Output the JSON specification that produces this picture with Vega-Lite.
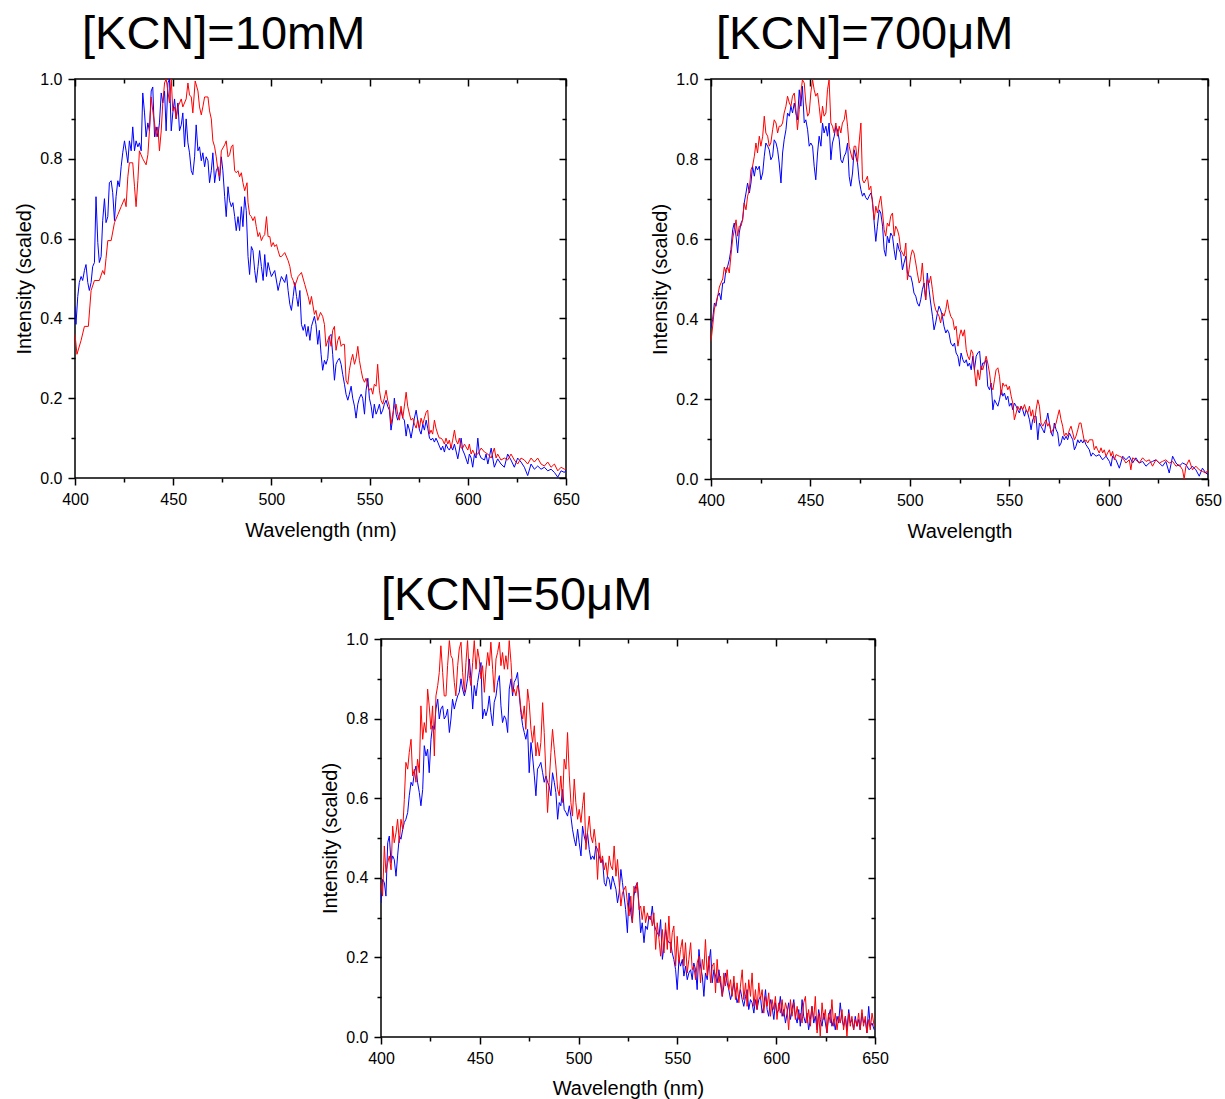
{
"$schema": "https://vega.github.io/schema/vega-lite/v6.json",
"background": "white",
"padding": {"left": 14, "top": 10, "right": 2, "bottom": 0},
"config": {
  "view": {"stroke": null},
  "font": "Liberation Sans",
  "axis": {"domain": false, "grid": false, "tickColor": "#000000", "tickWidth": 1.5, "tickSize": 7, "labelFont": "Liberation Sans", "labelFontSize": 16, "labelColor": "#000000", "labelPadding": 6, "labelFlush": false, "labelOverlap": false, "titleFont": "Liberation Sans", "titleFontSize": 20, "titleFontWeight": "normal", "titleColor": "#000000"},
  "title": {"font": "Liberation Sans", "fontSize": 47, "fontWeight": "normal", "color": "#000000", "anchor": "start", "frame": "group", "baseline": "alphabetic"}
},
"datasets": {
"ghost": [{"w":400,"i":0},{"w":650,"i":1}],
"k10_r": [{"w":400,"i":0.36},{"w":401,"i":0.31},{"w":403.1,"i":0.345},{"w":404.8,"i":0.38},{"w":406.8,"i":0.38},{"w":408.2,"i":0.47},{"w":409.9,"i":0.495},{"w":412.4,"i":0.495},{"w":414.1,"i":0.52},{"w":415,"i":0.51},{"w":415.8,"i":0.55},{"w":416.7,"i":0.595},{"w":418.4,"i":0.595},{"w":420.1,"i":0.64},{"w":421.8,"i":0.66},{"w":423.5,"i":0.68},{"w":425.2,"i":0.7},{"w":426,"i":0.68},{"w":426.9,"i":0.755},{"w":427.7,"i":0.79},{"w":429.4,"i":0.79},{"w":430.3,"i":0.73},{"w":431.1,"i":0.68},{"w":432,"i":0.745},{"w":432.8,"i":0.82},{"w":434.5,"i":0.8},{"w":436.2,"i":0.785},{"w":437.1,"i":0.81},{"w":437.9,"i":0.87},{"w":438.8,"i":0.955},{"w":439.6,"i":0.92},{"w":440.5,"i":0.89},{"w":441.3,"i":0.855},{"w":442.2,"i":0.88},{"w":443,"i":0.82},{"w":443.9,"i":0.87},{"w":444.7,"i":0.94},{"w":445.6,"i":0.99},{"w":446.4,"i":1.0},{"w":447.3,"i":0.97},{"w":448.1,"i":0.94},{"w":449,"i":1.0},{"w":449.8,"i":0.92},{"w":450.7,"i":0.93},{"w":451.5,"i":0.9},{"w":452.4,"i":0.93},{"w":454.1,"i":0.95},{"w":454.9,"i":0.93},{"w":456.6,"i":0.95},{"w":457.5,"i":0.99},{"w":458.3,"i":0.96},{"w":459.2,"i":0.955},{"w":460,"i":0.915},{"w":461.2,"i":0.995},{"w":462.6,"i":0.97},{"w":463.4,"i":0.93},{"w":464.3,"i":0.91},{"w":465.1,"i":0.93},{"w":466,"i":0.955},{"w":467.7,"i":0.955},{"w":468.5,"i":0.92},{"w":469.4,"i":0.9},{"w":470.2,"i":0.845},{"w":471.1,"i":0.83},{"w":471.9,"i":0.805},{"w":472.8,"i":0.77},{"w":473.6,"i":0.755},{"w":474.5,"i":0.82},{"w":476.2,"i":0.835},{"w":477,"i":0.845},{"w":477.9,"i":0.805},{"w":478.7,"i":0.81},{"w":479.6,"i":0.83},{"w":480.4,"i":0.835},{"w":481.3,"i":0.77},{"w":482.1,"i":0.765},{"w":483,"i":0.77},{"w":483.8,"i":0.755},{"w":484.7,"i":0.765},{"w":485.5,"i":0.74},{"w":486.4,"i":0.72},{"w":487.6,"i":0.74},{"w":488.1,"i":0.69},{"w":488.9,"i":0.66},{"w":489.8,"i":0.655},{"w":490.6,"i":0.645},{"w":491.5,"i":0.655},{"w":492.3,"i":0.63},{"w":493.2,"i":0.605},{"w":494,"i":0.615},{"w":494.9,"i":0.595},{"w":495.8,"i":0.605},{"w":496.6,"i":0.61},{"w":497.5,"i":0.655},{"w":498.3,"i":0.605},{"w":499.2,"i":0.605},{"w":500,"i":0.58},{"w":500.9,"i":0.59},{"w":501.7,"i":0.58},{"w":502.6,"i":0.585},{"w":503.4,"i":0.57},{"w":504.3,"i":0.555},{"w":505.1,"i":0.555},{"w":506.8,"i":0.565},{"w":508.5,"i":0.545},{"w":509.4,"i":0.53},{"w":510.2,"i":0.505},{"w":511.1,"i":0.495},{"w":511.9,"i":0.48},{"w":513.6,"i":0.505},{"w":515.3,"i":0.515},{"w":517,"i":0.485},{"w":518.7,"i":0.455},{"w":519.6,"i":0.435},{"w":520.4,"i":0.455},{"w":521.9,"i":0.41},{"w":522.7,"i":0.42},{"w":523.6,"i":0.395},{"w":525,"i":0.415},{"w":526.1,"i":0.405},{"w":527,"i":0.385},{"w":527.8,"i":0.33},{"w":528.7,"i":0.345},{"w":529.5,"i":0.355},{"w":530.4,"i":0.33},{"w":531.2,"i":0.37},{"w":532.1,"i":0.38},{"w":532.9,"i":0.32},{"w":533.8,"i":0.345},{"w":534.6,"i":0.355},{"w":535.5,"i":0.33},{"w":536.3,"i":0.335},{"w":537.2,"i":0.335},{"w":538,"i":0.245},{"w":538.9,"i":0.235},{"w":539.7,"i":0.27},{"w":540.6,"i":0.295},{"w":541.4,"i":0.31},{"w":542.3,"i":0.285},{"w":543.1,"i":0.3},{"w":544,"i":0.33},{"w":544.8,"i":0.295},{"w":545.7,"i":0.27},{"w":546.5,"i":0.25},{"w":547.4,"i":0.24},{"w":548.2,"i":0.25},{"w":549.1,"i":0.23},{"w":549.9,"i":0.22},{"w":550.8,"i":0.225},{"w":551.6,"i":0.21},{"w":552.4,"i":0.235},{"w":553.3,"i":0.23},{"w":554.1,"i":0.285},{"w":555,"i":0.22},{"w":555.8,"i":0.195},{"w":556.7,"i":0.185},{"w":557.5,"i":0.2},{"w":558.4,"i":0.22},{"w":559.2,"i":0.195},{"w":560.1,"i":0.18},{"w":560.9,"i":0.135},{"w":561.8,"i":0.16},{"w":562.6,"i":0.18},{"w":563.5,"i":0.185},{"w":564.3,"i":0.16},{"w":565.2,"i":0.145},{"w":566,"i":0.18},{"w":566.9,"i":0.15},{"w":567.7,"i":0.18},{"w":568.6,"i":0.215},{"w":569.4,"i":0.18},{"w":570.3,"i":0.16},{"w":571.1,"i":0.145},{"w":572,"i":0.15},{"w":572.8,"i":0.135},{"w":573.7,"i":0.125},{"w":574.5,"i":0.145},{"w":575.4,"i":0.125},{"w":576.2,"i":0.15},{"w":577.1,"i":0.135},{"w":577.9,"i":0.15},{"w":578.8,"i":0.165},{"w":579.6,"i":0.17},{"w":580.5,"i":0.11},{"w":581.3,"i":0.12},{"w":582.1,"i":0.11},{"w":583,"i":0.145},{"w":583.8,"i":0.125},{"w":584.7,"i":0.11},{"w":585.5,"i":0.1},{"w":586.4,"i":0.1},{"w":587.2,"i":0.095},{"w":588.1,"i":0.085},{"w":588.9,"i":0.1},{"w":589.8,"i":0.085},{"w":590.6,"i":0.095},{"w":591.5,"i":0.075},{"w":592.3,"i":0.095},{"w":593.2,"i":0.12},{"w":594,"i":0.095},{"w":594.9,"i":0.085},{"w":595.7,"i":0.1},{"w":596.6,"i":0.075},{"w":597.4,"i":0.075},{"w":598.3,"i":0.085},{"w":600,"i":0.07},{"w":600.8,"i":0.085},{"w":601.7,"i":0.06},{"w":602.5,"i":0.07},{"w":603.4,"i":0.06},{"w":605.1,"i":0.06},{"w":606.8,"i":0.075},{"w":608.5,"i":0.065},{"w":610.2,"i":0.06},{"w":611.9,"i":0.05},{"w":613.5,"i":0.075},{"w":614.4,"i":0.05},{"w":615.2,"i":0.06},{"w":616.9,"i":0.045},{"w":618.6,"i":0.05},{"w":620.3,"i":0.045},{"w":622,"i":0.06},{"w":623.7,"i":0.045},{"w":625.4,"i":0.035},{"w":627.1,"i":0.05},{"w":628.8,"i":0.045},{"w":630.5,"i":0.035},{"w":632.2,"i":0.05},{"w":633.9,"i":0.04},{"w":635.6,"i":0.05},{"w":637.3,"i":0.035},{"w":639,"i":0.03},{"w":640.7,"i":0.04},{"w":642.4,"i":0.027},{"w":644.1,"i":0.035},{"w":645.8,"i":0.018},{"w":647.5,"i":0.027},{"w":649.2,"i":0.022},{"w":650,"i":0.025}],
"k10_b": [{"w":400,"i":0.43},{"w":400.5,"i":0.385},{"w":401.4,"i":0.455},{"w":402.2,"i":0.49},{"w":403.1,"i":0.505},{"w":403.9,"i":0.495},{"w":404.8,"i":0.52},{"w":405.6,"i":0.535},{"w":406.5,"i":0.49},{"w":407.3,"i":0.47},{"w":408.2,"i":0.49},{"w":409,"i":0.53},{"w":409.9,"i":0.54},{"w":410.7,"i":0.705},{"w":411.6,"i":0.59},{"w":412.4,"i":0.54},{"w":413.3,"i":0.555},{"w":414.1,"i":0.645},{"w":415,"i":0.7},{"w":415.8,"i":0.64},{"w":416.7,"i":0.655},{"w":417.5,"i":0.74},{"w":418.4,"i":0.745},{"w":419.2,"i":0.715},{"w":420.1,"i":0.645},{"w":420.9,"i":0.705},{"w":421.8,"i":0.745},{"w":422.6,"i":0.73},{"w":423.5,"i":0.78},{"w":424.3,"i":0.815},{"w":425.2,"i":0.845},{"w":426,"i":0.82},{"w":426.9,"i":0.79},{"w":427.7,"i":0.845},{"w":428.6,"i":0.82},{"w":429.4,"i":0.88},{"w":430.3,"i":0.82},{"w":431.1,"i":0.845},{"w":432,"i":0.83},{"w":432.8,"i":0.84},{"w":433.7,"i":0.82},{"w":434.5,"i":0.965},{"w":435.4,"i":0.915},{"w":436.2,"i":0.855},{"w":437.1,"i":0.89},{"w":437.9,"i":0.87},{"w":438.8,"i":0.97},{"w":439.6,"i":0.98},{"w":440.5,"i":0.855},{"w":441.3,"i":0.88},{"w":442.2,"i":0.855},{"w":443,"i":0.89},{"w":443.9,"i":0.965},{"w":444.7,"i":0.94},{"w":445.6,"i":0.97},{"w":446.4,"i":0.87},{"w":447.3,"i":0.99},{"w":448.1,"i":1.0},{"w":449,"i":0.87},{"w":449.8,"i":0.915},{"w":450.7,"i":0.95},{"w":451.5,"i":0.9},{"w":452.4,"i":0.94},{"w":453.2,"i":0.87},{"w":454.1,"i":0.885},{"w":454.9,"i":0.915},{"w":455.8,"i":0.83},{"w":456.6,"i":0.9},{"w":457.5,"i":0.84},{"w":458.3,"i":0.815},{"w":459.2,"i":0.77},{"w":460,"i":0.76},{"w":460.9,"i":0.805},{"w":461.7,"i":0.885},{"w":462.6,"i":0.82},{"w":463.4,"i":0.83},{"w":464.3,"i":0.795},{"w":465.1,"i":0.815},{"w":466,"i":0.78},{"w":466.8,"i":0.805},{"w":467.7,"i":0.795},{"w":468.5,"i":0.74},{"w":469.4,"i":0.77},{"w":470.2,"i":0.815},{"w":471.1,"i":0.74},{"w":471.9,"i":0.77},{"w":472.8,"i":0.78},{"w":473.6,"i":0.745},{"w":474.5,"i":0.805},{"w":475.3,"i":0.77},{"w":476.2,"i":0.705},{"w":477,"i":0.655},{"w":477.9,"i":0.73},{"w":478.7,"i":0.695},{"w":479.6,"i":0.68},{"w":480.4,"i":0.69},{"w":481.3,"i":0.655},{"w":482.1,"i":0.62},{"w":483,"i":0.655},{"w":483.8,"i":0.62},{"w":484.7,"i":0.68},{"w":485.5,"i":0.63},{"w":486.4,"i":0.705},{"w":487.2,"i":0.67},{"w":488.1,"i":0.555},{"w":488.9,"i":0.51},{"w":489.8,"i":0.58},{"w":490.6,"i":0.57},{"w":491.5,"i":0.52},{"w":492.3,"i":0.49},{"w":493.2,"i":0.53},{"w":494,"i":0.57},{"w":494.9,"i":0.53},{"w":495.8,"i":0.495},{"w":496.6,"i":0.56},{"w":497.5,"i":0.505},{"w":498.3,"i":0.54},{"w":499.2,"i":0.52},{"w":500,"i":0.505},{"w":501.7,"i":0.52},{"w":503.4,"i":0.47},{"w":504.3,"i":0.49},{"w":505.1,"i":0.505},{"w":506.8,"i":0.49},{"w":507.7,"i":0.51},{"w":508.5,"i":0.47},{"w":509.4,"i":0.435},{"w":510.2,"i":0.42},{"w":511.1,"i":0.455},{"w":511.9,"i":0.49},{"w":512.8,"i":0.455},{"w":513.6,"i":0.43},{"w":514.5,"i":0.47},{"w":515.3,"i":0.385},{"w":516.2,"i":0.37},{"w":517,"i":0.385},{"w":517.9,"i":0.355},{"w":518.7,"i":0.38},{"w":519.6,"i":0.345},{"w":520.4,"i":0.38},{"w":521.9,"i":0.405},{"w":522.7,"i":0.385},{"w":523.6,"i":0.335},{"w":524.4,"i":0.37},{"w":525.3,"i":0.31},{"w":526.1,"i":0.27},{"w":527,"i":0.295},{"w":527.8,"i":0.285},{"w":528.7,"i":0.3},{"w":529.5,"i":0.355},{"w":530.4,"i":0.36},{"w":531.2,"i":0.31},{"w":532.1,"i":0.245},{"w":532.9,"i":0.285},{"w":533.8,"i":0.295},{"w":534.6,"i":0.3},{"w":535.5,"i":0.285},{"w":536.3,"i":0.26},{"w":537.2,"i":0.235},{"w":538,"i":0.21},{"w":538.9,"i":0.195},{"w":539.7,"i":0.21},{"w":540.6,"i":0.23},{"w":541.4,"i":0.2},{"w":542.3,"i":0.18},{"w":543.1,"i":0.15},{"w":544,"i":0.185},{"w":544.8,"i":0.2},{"w":545.7,"i":0.21},{"w":546.5,"i":0.2},{"w":547.4,"i":0.16},{"w":548.2,"i":0.22},{"w":549.1,"i":0.25},{"w":549.9,"i":0.2},{"w":550.8,"i":0.18},{"w":551.6,"i":0.15},{"w":552.4,"i":0.185},{"w":553.3,"i":0.16},{"w":554.1,"i":0.17},{"w":555,"i":0.185},{"w":555.8,"i":0.16},{"w":556.7,"i":0.17},{"w":557.5,"i":0.185},{"w":558.4,"i":0.195},{"w":559.2,"i":0.18},{"w":560.1,"i":0.17},{"w":560.9,"i":0.12},{"w":561.8,"i":0.15},{"w":562.6,"i":0.2},{"w":563.5,"i":0.16},{"w":564.3,"i":0.145},{"w":565.2,"i":0.16},{"w":566,"i":0.17},{"w":566.9,"i":0.15},{"w":567.7,"i":0.145},{"w":568.6,"i":0.105},{"w":569.4,"i":0.135},{"w":570.3,"i":0.12},{"w":571.1,"i":0.1},{"w":572,"i":0.125},{"w":572.8,"i":0.15},{"w":573.7,"i":0.17},{"w":574.5,"i":0.145},{"w":575.4,"i":0.12},{"w":576.2,"i":0.11},{"w":577.1,"i":0.135},{"w":577.9,"i":0.12},{"w":578.8,"i":0.145},{"w":579.6,"i":0.125},{"w":580.5,"i":0.1},{"w":581.3,"i":0.095},{"w":582.1,"i":0.1},{"w":583,"i":0.09},{"w":583.8,"i":0.1},{"w":584.7,"i":0.09},{"w":585.5,"i":0.08},{"w":586.4,"i":0.07},{"w":587.2,"i":0.08},{"w":588.1,"i":0.065},{"w":588.9,"i":0.085},{"w":589.8,"i":0.075},{"w":590.6,"i":0.07},{"w":591.5,"i":0.08},{"w":592.3,"i":0.07},{"w":593.2,"i":0.085},{"w":594.9,"i":0.048},{"w":595.7,"i":0.07},{"w":596.6,"i":0.1},{"w":597.4,"i":0.07},{"w":598.3,"i":0.06},{"w":600,"i":0.035},{"w":600.8,"i":0.06},{"w":601.7,"i":0.05},{"w":602.5,"i":0.027},{"w":603.4,"i":0.06},{"w":604.2,"i":0.05},{"w":605.1,"i":0.1},{"w":605.9,"i":0.06},{"w":606.8,"i":0.05},{"w":608.5,"i":0.045},{"w":609.3,"i":0.06},{"w":610.2,"i":0.035},{"w":611.9,"i":0.075},{"w":612.7,"i":0.05},{"w":613.5,"i":0.027},{"w":615.2,"i":0.048},{"w":616.9,"i":0.035},{"w":618.6,"i":0.027},{"w":620.3,"i":0.06},{"w":622,"i":0.045},{"w":623.7,"i":0.027},{"w":625.4,"i":0.05},{"w":627.1,"i":0.04},{"w":628.8,"i":0.027},{"w":630.5,"i":0.006},{"w":632.2,"i":0.035},{"w":633.9,"i":0.022},{"w":635.6,"i":0.03},{"w":637.3,"i":0.022},{"w":639,"i":0.027},{"w":640.7,"i":0.018},{"w":642.4,"i":0.022},{"w":644.1,"i":0.014},{"w":645.8,"i":0.002},{"w":647.5,"i":0.018},{"w":649.2,"i":0.014},{"w":650,"i":0.02}],
"k700_r": [{"w":400,"i":0.344},{"w":400.8,"i":0.38},{"w":401.7,"i":0.425},{"w":402.5,"i":0.44},{"w":403.3,"i":0.455},{"w":404.2,"i":0.48},{"w":405,"i":0.49},{"w":405.9,"i":0.5},{"w":406.7,"i":0.53},{"w":407.5,"i":0.515},{"w":408.4,"i":0.53},{"w":409.2,"i":0.515},{"w":410,"i":0.557},{"w":410.9,"i":0.6},{"w":411.7,"i":0.623},{"w":412.6,"i":0.648},{"w":413.4,"i":0.607},{"w":414.2,"i":0.632},{"w":415.1,"i":0.632},{"w":415.9,"i":0.648},{"w":416.7,"i":0.69},{"w":417.6,"i":0.673},{"w":418.4,"i":0.707},{"w":419.3,"i":0.723},{"w":420.1,"i":0.773},{"w":420.9,"i":0.782},{"w":421.8,"i":0.807},{"w":422.6,"i":0.84},{"w":423.4,"i":0.815},{"w":424.3,"i":0.857},{"w":425.1,"i":0.832},{"w":426,"i":0.857},{"w":426.8,"i":0.907},{"w":427.6,"i":0.865},{"w":428.5,"i":0.857},{"w":429.3,"i":0.832},{"w":430.1,"i":0.84},{"w":431,"i":0.873},{"w":431.8,"i":0.898},{"w":432.7,"i":0.89},{"w":433.5,"i":0.865},{"w":434.3,"i":0.882},{"w":435.2,"i":0.882},{"w":436,"i":0.89},{"w":436.8,"i":0.915},{"w":437.7,"i":0.932},{"w":438.5,"i":0.957},{"w":439.4,"i":0.94},{"w":440.2,"i":0.932},{"w":441,"i":0.957},{"w":441.9,"i":0.965},{"w":442.7,"i":0.923},{"w":443.5,"i":0.873},{"w":444.4,"i":0.923},{"w":445.2,"i":0.965},{"w":446,"i":0.998},{"w":446.9,"i":0.99},{"w":447.7,"i":0.94},{"w":448.6,"i":0.907},{"w":449.4,"i":0.915},{"w":450.2,"i":0.965},{"w":451.1,"i":0.998},{"w":451.9,"i":0.973},{"w":452.7,"i":0.957},{"w":453.6,"i":0.965},{"w":454.4,"i":0.932},{"w":455.3,"i":0.89},{"w":456.1,"i":0.932},{"w":456.9,"i":0.907},{"w":457.8,"i":0.915},{"w":458.6,"i":0.973},{"w":459.4,"i":0.998},{"w":460.3,"i":0.89},{"w":461.1,"i":0.882},{"w":462,"i":0.865},{"w":462.8,"i":0.89},{"w":463.6,"i":0.857},{"w":464.5,"i":0.882},{"w":465.3,"i":0.865},{"w":466.1,"i":0.89},{"w":467,"i":0.898},{"w":467.8,"i":0.923},{"w":468.7,"i":0.882},{"w":469.5,"i":0.832},{"w":470.3,"i":0.815},{"w":471.2,"i":0.798},{"w":472,"i":0.832},{"w":472.8,"i":0.832},{"w":473.7,"i":0.79},{"w":474.5,"i":0.84},{"w":475.4,"i":0.89},{"w":476.2,"i":0.748},{"w":477,"i":0.74},{"w":477.9,"i":0.748},{"w":478.7,"i":0.757},{"w":479.5,"i":0.723},{"w":480.4,"i":0.732},{"w":481.2,"i":0.69},{"w":482.1,"i":0.648},{"w":482.9,"i":0.682},{"w":483.7,"i":0.665},{"w":484.6,"i":0.69},{"w":485.4,"i":0.707},{"w":486.3,"i":0.665},{"w":487.1,"i":0.623},{"w":487.9,"i":0.607},{"w":488.7,"i":0.64},{"w":489.6,"i":0.632},{"w":490.4,"i":0.657},{"w":491.3,"i":0.665},{"w":492.1,"i":0.607},{"w":492.9,"i":0.632},{"w":493.8,"i":0.623},{"w":494.6,"i":0.607},{"w":495.4,"i":0.573},{"w":496.3,"i":0.565},{"w":497.1,"i":0.557},{"w":498,"i":0.59},{"w":498.8,"i":0.498},{"w":499.6,"i":0.523},{"w":500.5,"i":0.557},{"w":501.3,"i":0.573},{"w":502.1,"i":0.565},{"w":503,"i":0.54},{"w":503.8,"i":0.515},{"w":504.7,"i":0.49},{"w":505.5,"i":0.498},{"w":506.3,"i":0.54},{"w":507.2,"i":0.482},{"w":508,"i":0.448},{"w":508.8,"i":0.498},{"w":509.7,"i":0.49},{"w":510.5,"i":0.507},{"w":511.4,"i":0.473},{"w":512.2,"i":0.44},{"w":513,"i":0.423},{"w":513.9,"i":0.415},{"w":514.7,"i":0.407},{"w":515.5,"i":0.39},{"w":516.4,"i":0.415},{"w":517.2,"i":0.407},{"w":518.1,"i":0.423},{"w":518.9,"i":0.448},{"w":519.7,"i":0.423},{"w":520.6,"i":0.407},{"w":521.7,"i":0.398},{"w":522.5,"i":0.373},{"w":523.3,"i":0.382},{"w":524.2,"i":0.332},{"w":525,"i":0.357},{"w":525.8,"i":0.373},{"w":526.7,"i":0.357},{"w":527.5,"i":0.373},{"w":528.4,"i":0.323},{"w":529.2,"i":0.307},{"w":530,"i":0.298},{"w":530.9,"i":0.323},{"w":531.7,"i":0.315},{"w":532.5,"i":0.273},{"w":533.4,"i":0.232},{"w":534.2,"i":0.273},{"w":535.1,"i":0.248},{"w":535.9,"i":0.282},{"w":536.7,"i":0.273},{"w":537.6,"i":0.29},{"w":538.4,"i":0.307},{"w":539.2,"i":0.29},{"w":540.1,"i":0.265},{"w":540.9,"i":0.232},{"w":541.8,"i":0.223},{"w":542.6,"i":0.248},{"w":543.4,"i":0.273},{"w":544.3,"i":0.278},{"w":545.1,"i":0.257},{"w":546,"i":0.21},{"w":546.8,"i":0.24},{"w":547.6,"i":0.232},{"w":548.5,"i":0.236},{"w":549.3,"i":0.223},{"w":550.1,"i":0.232},{"w":551,"i":0.207},{"w":551.8,"i":0.19},{"w":552.6,"i":0.148},{"w":553.5,"i":0.165},{"w":554.3,"i":0.182},{"w":555.1,"i":0.173},{"w":556,"i":0.182},{"w":556.8,"i":0.173},{"w":557.7,"i":0.186},{"w":558.5,"i":0.173},{"w":559.3,"i":0.165},{"w":560.2,"i":0.182},{"w":561,"i":0.157},{"w":561.8,"i":0.173},{"w":562.7,"i":0.14},{"w":563.5,"i":0.173},{"w":564.4,"i":0.198},{"w":565.2,"i":0.182},{"w":566,"i":0.14},{"w":566.9,"i":0.132},{"w":567.7,"i":0.14},{"w":568.5,"i":0.148},{"w":569.4,"i":0.132},{"w":570.2,"i":0.14},{"w":571.1,"i":0.115},{"w":571.9,"i":0.123},{"w":572.7,"i":0.128},{"w":573.6,"i":0.14},{"w":574.4,"i":0.157},{"w":575.2,"i":0.173},{"w":576.1,"i":0.148},{"w":576.9,"i":0.132},{"w":577.7,"i":0.107},{"w":578.6,"i":0.115},{"w":579.4,"i":0.107},{"w":580.3,"i":0.123},{"w":581.1,"i":0.132},{"w":582,"i":0.115},{"w":582.8,"i":0.098},{"w":583.6,"i":0.107},{"w":584.5,"i":0.123},{"w":585.3,"i":0.14},{"w":586.1,"i":0.14},{"w":587,"i":0.115},{"w":587.8,"i":0.094},{"w":588.6,"i":0.098},{"w":589.5,"i":0.09},{"w":590.3,"i":0.098},{"w":591.2,"i":0.098},{"w":592,"i":0.098},{"w":592.8,"i":0.073},{"w":593.7,"i":0.082},{"w":594.5,"i":0.073},{"w":595.3,"i":0.065},{"w":596.2,"i":0.078},{"w":597,"i":0.065},{"w":597.8,"i":0.073},{"w":598.7,"i":0.057},{"w":599.5,"i":0.065},{"w":600.4,"i":0.073},{"w":601.2,"i":0.057},{"w":602,"i":0.069},{"w":602.9,"i":0.048},{"w":603.7,"i":0.061},{"w":605.4,"i":0.057},{"w":607.1,"i":0.053},{"w":608.7,"i":0.04},{"w":610.4,"i":0.048},{"w":611.2,"i":0.023},{"w":612.1,"i":0.053},{"w":613.7,"i":0.048},{"w":615.4,"i":0.04},{"w":617.1,"i":0.053},{"w":618.8,"i":0.044},{"w":620.5,"i":0.048},{"w":622.1,"i":0.032},{"w":623.8,"i":0.048},{"w":625.5,"i":0.04},{"w":627.1,"i":0.044},{"w":628.8,"i":0.048},{"w":630.5,"i":0.04},{"w":632.2,"i":0.044},{"w":633.9,"i":0.032},{"w":635.5,"i":0.036},{"w":637.2,"i":0.023},{"w":638,"i":0.0},{"w":638.9,"i":0.032},{"w":640.5,"i":0.048},{"w":642.2,"i":0.023},{"w":643.9,"i":0.032},{"w":645.6,"i":0.023},{"w":647.2,"i":0.019},{"w":648.9,"i":0.015},{"w":650,"i":0.023}],
"k700_b": [{"w":400,"i":0.378},{"w":400.8,"i":0.398},{"w":401.7,"i":0.44},{"w":402.5,"i":0.432},{"w":403.3,"i":0.457},{"w":404.2,"i":0.465},{"w":405,"i":0.448},{"w":405.9,"i":0.49},{"w":406.7,"i":0.49},{"w":407.5,"i":0.523},{"w":408.4,"i":0.532},{"w":409.2,"i":0.548},{"w":410,"i":0.573},{"w":410.9,"i":0.623},{"w":411.7,"i":0.64},{"w":412.6,"i":0.607},{"w":413.4,"i":0.565},{"w":414.2,"i":0.615},{"w":415.1,"i":0.64},{"w":415.9,"i":0.648},{"w":416.7,"i":0.69},{"w":417.6,"i":0.715},{"w":418.4,"i":0.74},{"w":419.3,"i":0.715},{"w":420.1,"i":0.74},{"w":420.9,"i":0.782},{"w":421.8,"i":0.757},{"w":422.6,"i":0.782},{"w":423.4,"i":0.773},{"w":424.3,"i":0.782},{"w":425.1,"i":0.748},{"w":426,"i":0.765},{"w":426.8,"i":0.807},{"w":427.6,"i":0.84},{"w":428.5,"i":0.832},{"w":429.3,"i":0.823},{"w":430.1,"i":0.798},{"w":431,"i":0.807},{"w":431.8,"i":0.848},{"w":432.7,"i":0.84},{"w":433.5,"i":0.823},{"w":434.3,"i":0.79},{"w":435.2,"i":0.74},{"w":436,"i":0.815},{"w":436.8,"i":0.848},{"w":437.7,"i":0.873},{"w":438.5,"i":0.915},{"w":439.4,"i":0.907},{"w":440.2,"i":0.932},{"w":441,"i":0.915},{"w":441.9,"i":0.94},{"w":442.7,"i":0.915},{"w":443.5,"i":0.898},{"w":444.4,"i":0.973},{"w":445.2,"i":0.932},{"w":446,"i":0.982},{"w":446.9,"i":0.89},{"w":447.7,"i":0.898},{"w":448.6,"i":0.873},{"w":449.4,"i":0.832},{"w":450.2,"i":0.84},{"w":451.1,"i":0.832},{"w":451.9,"i":0.782},{"w":452.7,"i":0.748},{"w":453.6,"i":0.815},{"w":454.4,"i":0.857},{"w":455.3,"i":0.832},{"w":456.1,"i":0.89},{"w":456.9,"i":0.865},{"w":457.8,"i":0.882},{"w":458.6,"i":0.857},{"w":459.4,"i":0.89},{"w":460.3,"i":0.798},{"w":461.1,"i":0.84},{"w":462,"i":0.857},{"w":462.8,"i":0.882},{"w":463.6,"i":0.873},{"w":464.5,"i":0.848},{"w":465.3,"i":0.798},{"w":466.1,"i":0.79},{"w":467,"i":0.807},{"w":467.8,"i":0.815},{"w":468.7,"i":0.84},{"w":469.5,"i":0.757},{"w":470.3,"i":0.732},{"w":471.2,"i":0.765},{"w":472,"i":0.823},{"w":472.8,"i":0.807},{"w":473.7,"i":0.79},{"w":474.5,"i":0.748},{"w":475.4,"i":0.723},{"w":476.2,"i":0.707},{"w":477,"i":0.715},{"w":477.9,"i":0.703},{"w":478.7,"i":0.698},{"w":479.5,"i":0.707},{"w":480.4,"i":0.715},{"w":481.2,"i":0.698},{"w":482.1,"i":0.64},{"w":482.9,"i":0.594},{"w":483.7,"i":0.632},{"w":484.6,"i":0.673},{"w":485.4,"i":0.665},{"w":486.3,"i":0.632},{"w":487.1,"i":0.573},{"w":487.9,"i":0.557},{"w":488.7,"i":0.607},{"w":489.6,"i":0.59},{"w":490.4,"i":0.615},{"w":491.3,"i":0.607},{"w":492.1,"i":0.573},{"w":492.9,"i":0.548},{"w":493.8,"i":0.59},{"w":494.6,"i":0.573},{"w":495.4,"i":0.565},{"w":496.3,"i":0.523},{"w":497.1,"i":0.54},{"w":498,"i":0.557},{"w":498.8,"i":0.515},{"w":499.6,"i":0.507},{"w":500.5,"i":0.507},{"w":501.3,"i":0.49},{"w":502.1,"i":0.465},{"w":503,"i":0.457},{"w":503.8,"i":0.44},{"w":504.7,"i":0.432},{"w":505.5,"i":0.448},{"w":506.3,"i":0.473},{"w":507.2,"i":0.49},{"w":508,"i":0.448},{"w":508.8,"i":0.515},{"w":509.7,"i":0.473},{"w":510.5,"i":0.44},{"w":511.4,"i":0.407},{"w":512.2,"i":0.373},{"w":513,"i":0.39},{"w":513.9,"i":0.415},{"w":514.7,"i":0.432},{"w":515.5,"i":0.423},{"w":516.4,"i":0.407},{"w":517.2,"i":0.382},{"w":518.1,"i":0.365},{"w":518.9,"i":0.373},{"w":519.7,"i":0.365},{"w":520.6,"i":0.34},{"w":521.7,"i":0.332},{"w":522.5,"i":0.34},{"w":523.3,"i":0.315},{"w":524.2,"i":0.307},{"w":525,"i":0.282},{"w":525.8,"i":0.315},{"w":526.7,"i":0.298},{"w":527.5,"i":0.29},{"w":528.4,"i":0.298},{"w":529.2,"i":0.282},{"w":530,"i":0.29},{"w":530.9,"i":0.273},{"w":531.7,"i":0.307},{"w":532.5,"i":0.273},{"w":533.4,"i":0.307},{"w":534.2,"i":0.315},{"w":535.1,"i":0.32},{"w":535.9,"i":0.273},{"w":536.7,"i":0.29},{"w":537.6,"i":0.29},{"w":538.4,"i":0.298},{"w":539.2,"i":0.232},{"w":540.1,"i":0.223},{"w":540.9,"i":0.24},{"w":541.8,"i":0.173},{"w":542.6,"i":0.198},{"w":543.4,"i":0.19},{"w":544.3,"i":0.182},{"w":545.1,"i":0.198},{"w":546,"i":0.223},{"w":546.8,"i":0.207},{"w":547.6,"i":0.215},{"w":548.5,"i":0.198},{"w":549.3,"i":0.207},{"w":550.1,"i":0.182},{"w":551,"i":0.19},{"w":551.8,"i":0.173},{"w":552.6,"i":0.19},{"w":553.5,"i":0.182},{"w":554.3,"i":0.173},{"w":555.1,"i":0.165},{"w":556,"i":0.182},{"w":556.8,"i":0.173},{"w":557.7,"i":0.157},{"w":558.5,"i":0.173},{"w":559.3,"i":0.165},{"w":560.2,"i":0.148},{"w":561,"i":0.123},{"w":561.8,"i":0.148},{"w":562.7,"i":0.157},{"w":563.5,"i":0.157},{"w":564.4,"i":0.098},{"w":565.2,"i":0.14},{"w":566,"i":0.132},{"w":566.9,"i":0.123},{"w":567.7,"i":0.115},{"w":568.5,"i":0.14},{"w":569.4,"i":0.165},{"w":570.2,"i":0.14},{"w":571.1,"i":0.115},{"w":571.9,"i":0.107},{"w":572.7,"i":0.14},{"w":573.6,"i":0.123},{"w":574.4,"i":0.115},{"w":575.2,"i":0.082},{"w":576.1,"i":0.09},{"w":576.9,"i":0.107},{"w":577.7,"i":0.098},{"w":578.6,"i":0.107},{"w":579.4,"i":0.098},{"w":580.3,"i":0.115},{"w":581.1,"i":0.107},{"w":582,"i":0.098},{"w":582.8,"i":0.073},{"w":583.6,"i":0.082},{"w":584.5,"i":0.098},{"w":585.3,"i":0.09},{"w":586.1,"i":0.098},{"w":587,"i":0.09},{"w":587.8,"i":0.098},{"w":588.6,"i":0.086},{"w":590.3,"i":0.073},{"w":591.2,"i":0.057},{"w":592,"i":0.065},{"w":593.7,"i":0.057},{"w":595.3,"i":0.061},{"w":597,"i":0.048},{"w":598.7,"i":0.057},{"w":600.4,"i":0.044},{"w":601.2,"i":0.032},{"w":602,"i":0.057},{"w":603.7,"i":0.048},{"w":605.4,"i":0.027},{"w":607.1,"i":0.057},{"w":608.7,"i":0.048},{"w":610.4,"i":0.057},{"w":612.1,"i":0.04},{"w":613.7,"i":0.053},{"w":615.4,"i":0.04},{"w":617.1,"i":0.044},{"w":618.8,"i":0.032},{"w":620.5,"i":0.04},{"w":622.1,"i":0.044},{"w":623.8,"i":0.048},{"w":625.5,"i":0.04},{"w":627.1,"i":0.032},{"w":628.8,"i":0.044},{"w":630.5,"i":0.015},{"w":632.2,"i":0.057},{"w":633.9,"i":0.04},{"w":635.5,"i":0.032},{"w":637.2,"i":0.04},{"w":638.9,"i":0.036},{"w":640.5,"i":0.023},{"w":642.2,"i":0.032},{"w":643.9,"i":0.023},{"w":645.6,"i":0.007},{"w":647.2,"i":0.027},{"w":648.9,"i":0.015},{"w":650,"i":0.011}],
"k50_r": [{"w":400,"i":0.388},{"w":400.8,"i":0.354},{"w":401.7,"i":0.48},{"w":402.5,"i":0.413},{"w":403.4,"i":0.438},{"w":404.2,"i":0.455},{"w":405.1,"i":0.42},{"w":405.9,"i":0.53},{"w":406.7,"i":0.488},{"w":407.6,"i":0.513},{"w":408.4,"i":0.547},{"w":409.3,"i":0.488},{"w":410.1,"i":0.547},{"w":411,"i":0.522},{"w":411.8,"i":0.597},{"w":412.6,"i":0.69},{"w":413.5,"i":0.673},{"w":414.3,"i":0.715},{"w":415.2,"i":0.748},{"w":416,"i":0.656},{"w":416.9,"i":0.673},{"w":417.7,"i":0.64},{"w":418.5,"i":0.698},{"w":419.4,"i":0.664},{"w":420.2,"i":0.832},{"w":421.1,"i":0.748},{"w":421.9,"i":0.79},{"w":422.8,"i":0.765},{"w":423.6,"i":0.874},{"w":424.4,"i":0.832},{"w":425.3,"i":0.773},{"w":426.1,"i":0.832},{"w":427,"i":0.706},{"w":427.8,"i":0.857},{"w":428.7,"i":0.883},{"w":429.5,"i":0.916},{"w":430.3,"i":0.983},{"w":431.2,"i":0.916},{"w":432,"i":0.857},{"w":432.9,"i":0.857},{"w":433.7,"i":0.933},{"w":434.6,"i":0.996},{"w":435.4,"i":0.958},{"w":436.2,"i":0.95},{"w":437.1,"i":0.891},{"w":437.9,"i":0.857},{"w":438.8,"i":0.933},{"w":439.6,"i":0.975},{"w":440.5,"i":0.992},{"w":441.3,"i":0.916},{"w":442.2,"i":0.866},{"w":443,"i":0.941},{"w":443.8,"i":0.996},{"w":444.7,"i":0.908},{"w":445.5,"i":0.883},{"w":446.4,"i":0.941},{"w":447.2,"i":0.996},{"w":448.1,"i":0.924},{"w":448.9,"i":0.975},{"w":449.7,"i":0.95},{"w":450.6,"i":0.9},{"w":451.4,"i":0.933},{"w":452.3,"i":0.866},{"w":453.1,"i":0.924},{"w":454,"i":0.966},{"w":454.8,"i":0.933},{"w":455.6,"i":0.992},{"w":456.5,"i":0.924},{"w":457.3,"i":0.866},{"w":458.2,"i":0.95},{"w":459,"i":0.966},{"w":459.9,"i":0.992},{"w":460.7,"i":0.933},{"w":461.5,"i":0.966},{"w":462.4,"i":0.924},{"w":463.2,"i":0.958},{"w":464.1,"i":0.924},{"w":464.9,"i":0.996},{"w":465.8,"i":0.941},{"w":466.6,"i":0.866},{"w":467.4,"i":0.874},{"w":468.3,"i":0.857},{"w":469.1,"i":0.883},{"w":470,"i":0.866},{"w":470.8,"i":0.824},{"w":471.7,"i":0.799},{"w":472.5,"i":0.832},{"w":473.3,"i":0.773},{"w":474.2,"i":0.874},{"w":475,"i":0.84},{"w":475.9,"i":0.773},{"w":476.7,"i":0.74},{"w":477.6,"i":0.782},{"w":478.4,"i":0.706},{"w":479.2,"i":0.74},{"w":480.1,"i":0.706},{"w":480.9,"i":0.74},{"w":481.8,"i":0.84},{"w":482.6,"i":0.765},{"w":483.5,"i":0.656},{"w":484.3,"i":0.564},{"w":485.1,"i":0.64},{"w":486,"i":0.715},{"w":486.8,"i":0.773},{"w":487.7,"i":0.723},{"w":488.5,"i":0.681},{"w":489.4,"i":0.622},{"w":490.2,"i":0.606},{"w":491,"i":0.656},{"w":491.9,"i":0.589},{"w":492.7,"i":0.698},{"w":493.6,"i":0.673},{"w":494.4,"i":0.765},{"w":495.3,"i":0.656},{"w":496.1,"i":0.589},{"w":496.9,"i":0.555},{"w":497.8,"i":0.648},{"w":498.6,"i":0.589},{"w":499.5,"i":0.547},{"w":500.3,"i":0.572},{"w":501.2,"i":0.539},{"w":502,"i":0.581},{"w":502.8,"i":0.614},{"w":503.7,"i":0.471},{"w":504.5,"i":0.513},{"w":505.4,"i":0.555},{"w":506.2,"i":0.505},{"w":507.1,"i":0.488},{"w":507.9,"i":0.522},{"w":508.7,"i":0.488},{"w":509.6,"i":0.396},{"w":510.4,"i":0.488},{"w":511.3,"i":0.438},{"w":512.1,"i":0.455},{"w":513,"i":0.42},{"w":513.8,"i":0.438},{"w":514.6,"i":0.404},{"w":515.5,"i":0.455},{"w":516.3,"i":0.43},{"w":517.2,"i":0.42},{"w":518,"i":0.48},{"w":518.9,"i":0.404},{"w":519.7,"i":0.446},{"w":520.5,"i":0.388},{"w":521.4,"i":0.329},{"w":522.2,"i":0.362},{"w":523.8,"i":0.379},{"w":524.7,"i":0.337},{"w":525.5,"i":0.304},{"w":526.4,"i":0.354},{"w":527.2,"i":0.287},{"w":528,"i":0.379},{"w":528.9,"i":0.362},{"w":529.7,"i":0.388},{"w":530.6,"i":0.32},{"w":531.4,"i":0.329},{"w":532.2,"i":0.295},{"w":533.1,"i":0.329},{"w":533.9,"i":0.287},{"w":534.8,"i":0.312},{"w":535.6,"i":0.295},{"w":536.5,"i":0.304},{"w":537.3,"i":0.279},{"w":538.1,"i":0.312},{"w":539,"i":0.22},{"w":539.8,"i":0.287},{"w":540.7,"i":0.245},{"w":541.5,"i":0.203},{"w":542.4,"i":0.27},{"w":543.2,"i":0.211},{"w":544,"i":0.287},{"w":544.9,"i":0.22},{"w":545.7,"i":0.304},{"w":546.6,"i":0.211},{"w":547.4,"i":0.262},{"w":548.2,"i":0.279},{"w":549.1,"i":0.178},{"w":549.9,"i":0.253},{"w":550.8,"i":0.186},{"w":551.6,"i":0.22},{"w":552.5,"i":0.245},{"w":553.3,"i":0.178},{"w":554.1,"i":0.237},{"w":555,"i":0.161},{"w":555.8,"i":0.195},{"w":556.7,"i":0.237},{"w":557.5,"i":0.169},{"w":558.3,"i":0.178},{"w":559.2,"i":0.144},{"w":560,"i":0.186},{"w":560.9,"i":0.203},{"w":561.7,"i":0.136},{"w":562.6,"i":0.195},{"w":563.4,"i":0.169},{"w":564.2,"i":0.245},{"w":565.1,"i":0.153},{"w":565.9,"i":0.203},{"w":566.8,"i":0.136},{"w":567.6,"i":0.178},{"w":568.5,"i":0.186},{"w":569.3,"i":0.111},{"w":570.1,"i":0.195},{"w":571,"i":0.136},{"w":571.8,"i":0.153},{"w":572.7,"i":0.102},{"w":573.5,"i":0.161},{"w":574.3,"i":0.128},{"w":575.2,"i":0.169},{"w":576,"i":0.119},{"w":576.9,"i":0.144},{"w":577.7,"i":0.102},{"w":578.6,"i":0.153},{"w":579.4,"i":0.094},{"w":580.2,"i":0.136},{"w":581.1,"i":0.086},{"w":581.9,"i":0.128},{"w":582.8,"i":0.169},{"w":583.6,"i":0.094},{"w":584.5,"i":0.136},{"w":585.3,"i":0.077},{"w":586.1,"i":0.144},{"w":587,"i":0.102},{"w":587.8,"i":0.161},{"w":588.7,"i":0.077},{"w":589.5,"i":0.119},{"w":590.3,"i":0.069},{"w":591.2,"i":0.136},{"w":592,"i":0.094},{"w":592.9,"i":0.119},{"w":593.7,"i":0.06},{"w":594.6,"i":0.102},{"w":595.4,"i":0.077},{"w":596.2,"i":0.111},{"w":597.1,"i":0.052},{"w":597.9,"i":0.094},{"w":598.8,"i":0.069},{"w":599.6,"i":0.102},{"w":600.4,"i":0.044},{"w":601.3,"i":0.086},{"w":602.1,"i":0.06},{"w":603,"i":0.094},{"w":603.8,"i":0.052},{"w":604.7,"i":0.086},{"w":605.5,"i":0.069},{"w":606.3,"i":0.018},{"w":607.2,"i":0.094},{"w":608,"i":0.052},{"w":608.9,"i":0.086},{"w":609.7,"i":0.044},{"w":610.6,"i":0.077},{"w":611.4,"i":0.044},{"w":612.2,"i":0.06},{"w":613.1,"i":0.035},{"w":613.9,"i":0.086},{"w":614.8,"i":0.102},{"w":615.6,"i":0.035},{"w":616.4,"i":0.069},{"w":617.3,"i":0.027},{"w":618.1,"i":0.077},{"w":619,"i":0.044},{"w":619.8,"i":0.102},{"w":620.7,"i":0.01},{"w":621.5,"i":0.06},{"w":622.3,"i":0.002},{"w":623.2,"i":0.086},{"w":624,"i":0.044},{"w":624.9,"i":0.069},{"w":625.7,"i":0.01},{"w":626.5,"i":0.06},{"w":627.4,"i":0.035},{"w":628.2,"i":0.094},{"w":629.1,"i":0.027},{"w":629.9,"i":0.06},{"w":630.8,"i":0.018},{"w":631.6,"i":0.052},{"w":632.4,"i":0.035},{"w":633.3,"i":0.069},{"w":634.1,"i":0.018},{"w":635,"i":0.052},{"w":635.8,"i":0.002},{"w":636.7,"i":0.06},{"w":637.5,"i":0.027},{"w":638.3,"i":0.052},{"w":639.2,"i":0.018},{"w":640,"i":0.044},{"w":640.9,"i":0.027},{"w":641.7,"i":0.06},{"w":642.5,"i":0.018},{"w":643.4,"i":0.069},{"w":644.2,"i":0.027},{"w":645.1,"i":0.052},{"w":645.9,"i":0.01},{"w":646.8,"i":0.044},{"w":647.6,"i":0.018},{"w":648.5,"i":0.06},{"w":649.6,"i":0.027}],
"k50_b": [{"w":400,"i":0.337},{"w":400.8,"i":0.396},{"w":401.7,"i":0.388},{"w":402.5,"i":0.354},{"w":403.4,"i":0.488},{"w":404.2,"i":0.505},{"w":405.1,"i":0.438},{"w":405.9,"i":0.455},{"w":406.7,"i":0.446},{"w":407.6,"i":0.404},{"w":408.4,"i":0.455},{"w":409.3,"i":0.505},{"w":410.1,"i":0.497},{"w":411,"i":0.522},{"w":411.8,"i":0.539},{"w":412.6,"i":0.547},{"w":413.5,"i":0.564},{"w":414.3,"i":0.606},{"w":415.2,"i":0.64},{"w":416,"i":0.631},{"w":416.9,"i":0.664},{"w":417.7,"i":0.681},{"w":418.5,"i":0.64},{"w":419.4,"i":0.614},{"w":420.2,"i":0.581},{"w":421.1,"i":0.622},{"w":421.9,"i":0.732},{"w":422.8,"i":0.706},{"w":423.6,"i":0.723},{"w":424.4,"i":0.664},{"w":425.3,"i":0.748},{"w":426.1,"i":0.782},{"w":427,"i":0.773},{"w":427.8,"i":0.824},{"w":428.7,"i":0.849},{"w":429.5,"i":0.799},{"w":430.3,"i":0.824},{"w":431.2,"i":0.832},{"w":432,"i":0.799},{"w":432.9,"i":0.807},{"w":433.7,"i":0.824},{"w":434.6,"i":0.765},{"w":435.4,"i":0.799},{"w":436.2,"i":0.849},{"w":437.1,"i":0.824},{"w":437.9,"i":0.841},{"w":438.8,"i":0.857},{"w":439.6,"i":0.866},{"w":440.5,"i":0.9},{"w":441.3,"i":0.874},{"w":442.2,"i":0.857},{"w":443,"i":0.874},{"w":443.8,"i":0.9},{"w":444.7,"i":0.95},{"w":445.5,"i":0.9},{"w":446.4,"i":0.824},{"w":447.2,"i":0.883},{"w":448.1,"i":0.857},{"w":448.9,"i":0.891},{"w":449.7,"i":0.916},{"w":450.6,"i":0.941},{"w":451.4,"i":0.799},{"w":452.3,"i":0.824},{"w":453.1,"i":0.807},{"w":454,"i":0.824},{"w":454.8,"i":0.857},{"w":455.6,"i":0.815},{"w":456.5,"i":0.782},{"w":457.3,"i":0.841},{"w":458.2,"i":0.857},{"w":459,"i":0.891},{"w":459.9,"i":0.908},{"w":460.7,"i":0.832},{"w":461.5,"i":0.79},{"w":462.4,"i":0.807},{"w":463.2,"i":0.799},{"w":464.1,"i":0.765},{"w":464.9,"i":0.874},{"w":465.8,"i":0.9},{"w":466.6,"i":0.857},{"w":467.4,"i":0.891},{"w":468.3,"i":0.9},{"w":469.1,"i":0.916},{"w":470,"i":0.857},{"w":470.8,"i":0.815},{"w":471.7,"i":0.782},{"w":472.5,"i":0.765},{"w":473.3,"i":0.748},{"w":474.2,"i":0.773},{"w":475,"i":0.664},{"w":475.9,"i":0.74},{"w":476.7,"i":0.706},{"w":477.6,"i":0.656},{"w":478.4,"i":0.606},{"w":479.2,"i":0.673},{"w":480.1,"i":0.681},{"w":480.9,"i":0.69},{"w":481.8,"i":0.664},{"w":482.6,"i":0.64},{"w":483.5,"i":0.656},{"w":484.3,"i":0.64},{"w":485.1,"i":0.631},{"w":486,"i":0.606},{"w":486.8,"i":0.664},{"w":487.7,"i":0.64},{"w":488.5,"i":0.614},{"w":489.4,"i":0.547},{"w":490.2,"i":0.589},{"w":491,"i":0.581},{"w":491.9,"i":0.622},{"w":492.7,"i":0.572},{"w":493.6,"i":0.564},{"w":494.4,"i":0.555},{"w":495.3,"i":0.581},{"w":496.1,"i":0.555},{"w":496.9,"i":0.522},{"w":497.8,"i":0.497},{"w":498.6,"i":0.48},{"w":499.5,"i":0.522},{"w":500.3,"i":0.488},{"w":501.2,"i":0.455},{"w":502,"i":0.53},{"w":502.8,"i":0.505},{"w":503.7,"i":0.488},{"w":504.5,"i":0.513},{"w":505.4,"i":0.471},{"w":506.2,"i":0.446},{"w":507.1,"i":0.455},{"w":507.9,"i":0.446},{"w":508.7,"i":0.48},{"w":509.6,"i":0.471},{"w":510.4,"i":0.455},{"w":511.3,"i":0.438},{"w":512.1,"i":0.446},{"w":513,"i":0.388},{"w":513.8,"i":0.379},{"w":514.6,"i":0.404},{"w":515.5,"i":0.396},{"w":516.3,"i":0.371},{"w":517.2,"i":0.404},{"w":518,"i":0.388},{"w":518.9,"i":0.371},{"w":519.7,"i":0.337},{"w":520.5,"i":0.362},{"w":521.4,"i":0.421},{"w":522.2,"i":0.388},{"w":523.8,"i":0.32},{"w":524.7,"i":0.262},{"w":525.5,"i":0.362},{"w":526.4,"i":0.312},{"w":527.2,"i":0.287},{"w":528,"i":0.354},{"w":528.9,"i":0.379},{"w":529.7,"i":0.388},{"w":530.6,"i":0.329},{"w":531.4,"i":0.262},{"w":532.2,"i":0.287},{"w":533.1,"i":0.237},{"w":533.9,"i":0.279},{"w":534.8,"i":0.27},{"w":535.6,"i":0.304},{"w":536.5,"i":0.295},{"w":537.3,"i":0.329},{"w":538.1,"i":0.287},{"w":539,"i":0.27},{"w":539.8,"i":0.262},{"w":540.7,"i":0.253},{"w":541.5,"i":0.295},{"w":542.4,"i":0.195},{"w":543.2,"i":0.228},{"w":544,"i":0.27},{"w":544.9,"i":0.245},{"w":545.7,"i":0.237},{"w":546.6,"i":0.237},{"w":547.4,"i":0.211},{"w":548.2,"i":0.195},{"w":549.1,"i":0.169},{"w":549.9,"i":0.119},{"w":550.8,"i":0.195},{"w":551.6,"i":0.178},{"w":552.5,"i":0.195},{"w":553.3,"i":0.153},{"w":554.1,"i":0.178},{"w":555,"i":0.144},{"w":555.8,"i":0.161},{"w":556.7,"i":0.169},{"w":557.5,"i":0.144},{"w":558.3,"i":0.186},{"w":559.2,"i":0.169},{"w":560,"i":0.119},{"w":560.9,"i":0.22},{"w":561.7,"i":0.178},{"w":562.6,"i":0.153},{"w":563.4,"i":0.102},{"w":564.2,"i":0.161},{"w":565.1,"i":0.144},{"w":565.9,"i":0.186},{"w":566.8,"i":0.22},{"w":567.6,"i":0.136},{"w":568.5,"i":0.169},{"w":569.3,"i":0.153},{"w":570.1,"i":0.136},{"w":571,"i":0.169},{"w":571.8,"i":0.136},{"w":572.7,"i":0.102},{"w":573.5,"i":0.128},{"w":574.3,"i":0.161},{"w":575.2,"i":0.136},{"w":576,"i":0.119},{"w":576.9,"i":0.094},{"w":577.7,"i":0.111},{"w":578.6,"i":0.136},{"w":579.4,"i":0.111},{"w":580.2,"i":0.086},{"w":581.1,"i":0.102},{"w":581.9,"i":0.119},{"w":582.8,"i":0.094},{"w":583.6,"i":0.077},{"w":584.5,"i":0.102},{"w":585.3,"i":0.119},{"w":586.1,"i":0.069},{"w":587,"i":0.094},{"w":587.8,"i":0.086},{"w":588.7,"i":0.06},{"w":589.5,"i":0.094},{"w":590.3,"i":0.069},{"w":591.2,"i":0.094},{"w":592,"i":0.102},{"w":592.9,"i":0.06},{"w":593.7,"i":0.077},{"w":594.6,"i":0.119},{"w":595.4,"i":0.069},{"w":596.2,"i":0.052},{"w":597.1,"i":0.094},{"w":597.9,"i":0.077},{"w":598.8,"i":0.044},{"w":599.6,"i":0.086},{"w":600.4,"i":0.06},{"w":601.3,"i":0.069},{"w":602.1,"i":0.102},{"w":603,"i":0.052},{"w":603.8,"i":0.069},{"w":604.7,"i":0.035},{"w":605.5,"i":0.06},{"w":606.3,"i":0.086},{"w":607.2,"i":0.044},{"w":608,"i":0.069},{"w":608.9,"i":0.094},{"w":609.7,"i":0.052},{"w":610.6,"i":0.035},{"w":611.4,"i":0.069},{"w":612.2,"i":0.027},{"w":613.1,"i":0.094},{"w":613.9,"i":0.052},{"w":614.8,"i":0.035},{"w":615.6,"i":0.06},{"w":616.4,"i":0.018},{"w":617.3,"i":0.044},{"w":618.1,"i":0.077},{"w":619,"i":0.035},{"w":619.8,"i":0.052},{"w":620.7,"i":0.018},{"w":621.5,"i":0.069},{"w":622.3,"i":0.044},{"w":623.2,"i":0.027},{"w":624,"i":0.06},{"w":624.9,"i":0.035},{"w":625.7,"i":0.01},{"w":626.5,"i":0.052},{"w":627.4,"i":0.069},{"w":628.2,"i":0.027},{"w":629.1,"i":0.044},{"w":629.9,"i":0.018},{"w":630.8,"i":0.052},{"w":631.6,"i":0.035},{"w":632.4,"i":0.086},{"w":633.3,"i":0.044},{"w":634.1,"i":0.027},{"w":635,"i":0.052},{"w":635.8,"i":0.018},{"w":636.7,"i":0.069},{"w":637.5,"i":0.035},{"w":638.3,"i":0.044},{"w":639.2,"i":0.018},{"w":640,"i":0.052},{"w":640.9,"i":0.027},{"w":641.7,"i":0.044},{"w":642.5,"i":0.018},{"w":643.4,"i":0.06},{"w":644.2,"i":0.035},{"w":645.1,"i":0.044},{"w":645.9,"i":0.01},{"w":646.8,"i":0.077},{"w":647.6,"i":0.027},{"w":648.5,"i":0.035},{"w":649.6,"i":0.018}]
},
"spacing": 29,
"vconcat": [
 {"hconcat": [
  {"width": 491, "height": 399,
   "view": {"stroke": "#000000", "strokeWidth": 1.5},
   "title": {"text": "[KCN]=10mM", "dx": 7, "offset": 12},
   "resolve": {"axis": {"x": "independent", "y": "independent"}},
   "layer": [
    {"data": {"name": "k10_b"}, "mark": {"type": "line", "color": "#0000ff", "strokeWidth": 1, "clip": true},
     "encoding": {"x": {"field": "w", "type": "quantitative", "scale": {"domain": [400, 650], "nice": false, "zero": false}, "axis": {"orient": "bottom", "values": [400, 450, 500, 550, 600, 650], "title": "Wavelength (nm)", "titlePadding": 13}},
                  "y": {"field": "i", "type": "quantitative", "scale": {"domain": [0, 1], "nice": false, "zero": false}, "axis": {"orient": "left", "values": [0, 0.2, 0.4, 0.6, 0.8, 1], "format": ".1f", "title": "Intensity (scaled)", "titlePadding": 5}}}},
    {"data": {"name": "k10_r"}, "mark": {"type": "line", "color": "#ff0000", "strokeWidth": 1, "clip": true},
     "encoding": {"x": {"field": "w", "type": "quantitative", "scale": {"domain": [400, 650], "nice": false, "zero": false}, "axis": {"orient": "bottom", "values": [425, 475, 525, 575, 625], "labels": false, "title": null, "tickSize": 4}},
                  "y": {"field": "i", "type": "quantitative", "scale": {"domain": [0, 1], "nice": false, "zero": false}, "axis": {"orient": "left", "values": [0.1, 0.3, 0.5, 0.7, 0.9], "labels": false, "title": null, "tickSize": 4}}}},
    {"data": {"name": "ghost"}, "mark": {"type": "point", "opacity": 0},
     "encoding": {"x": {"field": "w", "type": "quantitative", "scale": {"domain": [400, 650], "nice": false, "zero": false}, "axis": {"orient": "top", "values": [400, 450, 500, 550, 600, 650], "labels": false, "title": null, "tickSize": -7}},
                  "y": {"field": "i", "type": "quantitative", "scale": {"domain": [0, 1], "nice": false, "zero": false}, "axis": {"orient": "right", "values": [0, 0.2, 0.4, 0.6, 0.8, 1], "labels": false, "title": null, "tickSize": -7}}}},
    {"data": {"name": "ghost"}, "mark": {"type": "point", "opacity": 0},
     "encoding": {"x": {"field": "w", "type": "quantitative", "scale": {"domain": [400, 650], "nice": false, "zero": false}, "axis": {"orient": "top", "values": [425, 475, 525, 575, 625], "labels": false, "title": null, "tickSize": -4}},
                  "y": {"field": "i", "type": "quantitative", "scale": {"domain": [0, 1], "nice": false, "zero": false}, "axis": {"orient": "right", "values": [0.1, 0.3, 0.5, 0.7, 0.9], "labels": false, "title": null, "tickSize": -4}}}}
   ]},
  {"width": 497, "height": 400,
   "view": {"stroke": "#000000", "strokeWidth": 1.5},
   "title": {"text": "[KCN]=700μM", "dx": 5, "offset": 12},
   "resolve": {"axis": {"x": "independent", "y": "independent"}},
   "layer": [
    {"data": {"name": "k700_b"}, "mark": {"type": "line", "color": "#0000ff", "strokeWidth": 1, "clip": true},
     "encoding": {"x": {"field": "w", "type": "quantitative", "scale": {"domain": [400, 650], "nice": false, "zero": false}, "axis": {"orient": "bottom", "values": [400, 450, 500, 550, 600, 650], "title": "Wavelength", "titlePadding": 13}},
                  "y": {"field": "i", "type": "quantitative", "scale": {"domain": [0, 1], "nice": false, "zero": false}, "axis": {"orient": "left", "values": [0, 0.2, 0.4, 0.6, 0.8, 1], "format": ".1f", "title": "Intensity (scaled)", "titlePadding": 5}}}},
    {"data": {"name": "k700_r"}, "mark": {"type": "line", "color": "#ff0000", "strokeWidth": 1, "clip": true},
     "encoding": {"x": {"field": "w", "type": "quantitative", "scale": {"domain": [400, 650], "nice": false, "zero": false}, "axis": {"orient": "bottom", "values": [425, 475, 525, 575, 625], "labels": false, "title": null, "tickSize": 4}},
                  "y": {"field": "i", "type": "quantitative", "scale": {"domain": [0, 1], "nice": false, "zero": false}, "axis": {"orient": "left", "values": [0.1, 0.3, 0.5, 0.7, 0.9], "labels": false, "title": null, "tickSize": 4}}}},
    {"data": {"name": "ghost"}, "mark": {"type": "point", "opacity": 0},
     "encoding": {"x": {"field": "w", "type": "quantitative", "scale": {"domain": [400, 650], "nice": false, "zero": false}, "axis": {"orient": "top", "values": [400, 450, 500, 550, 600, 650], "labels": false, "title": null, "tickSize": -7}},
                  "y": {"field": "i", "type": "quantitative", "scale": {"domain": [0, 1], "nice": false, "zero": false}, "axis": {"orient": "right", "values": [0, 0.2, 0.4, 0.6, 0.8, 1], "labels": false, "title": null, "tickSize": -7}}}},
    {"data": {"name": "ghost"}, "mark": {"type": "point", "opacity": 0},
     "encoding": {"x": {"field": "w", "type": "quantitative", "scale": {"domain": [400, 650], "nice": false, "zero": false}, "axis": {"orient": "top", "values": [425, 475, 525, 575, 625], "labels": false, "title": null, "tickSize": -4}},
                  "y": {"field": "i", "type": "quantitative", "scale": {"domain": [0, 1], "nice": false, "zero": false}, "axis": {"orient": "right", "values": [0.1, 0.3, 0.5, 0.7, 0.9], "labels": false, "title": null, "tickSize": -4}}}}
   ]}
 ], "spacing": 69},
 {"hconcat": [
  {"width": 245, "height": 10, "data": {"name": "ghost"}, "mark": {"type": "point", "opacity": 0}, "encoding": {}},
  {"width": 494, "height": 398,
   "view": {"stroke": "#000000", "strokeWidth": 1.5},
   "title": {"text": "[KCN]=50μM", "dx": 0, "offset": 11},
   "resolve": {"axis": {"x": "independent", "y": "independent"}},
   "layer": [
    {"data": {"name": "k50_b"}, "mark": {"type": "line", "color": "#0000ff", "strokeWidth": 1, "clip": true},
     "encoding": {"x": {"field": "w", "type": "quantitative", "scale": {"domain": [400, 650], "nice": false, "zero": false}, "axis": {"orient": "bottom", "values": [400, 450, 500, 550, 600, 650], "title": "Wavelength (nm)", "titlePadding": 12}},
                  "y": {"field": "i", "type": "quantitative", "scale": {"domain": [0, 1], "nice": false, "zero": false}, "axis": {"orient": "left", "values": [0, 0.2, 0.4, 0.6, 0.8, 1], "format": ".1f", "title": "Intensity (scaled)", "titlePadding": 5}}}},
    {"data": {"name": "k50_r"}, "mark": {"type": "line", "color": "#ff0000", "strokeWidth": 1, "clip": true},
     "encoding": {"x": {"field": "w", "type": "quantitative", "scale": {"domain": [400, 650], "nice": false, "zero": false}, "axis": {"orient": "bottom", "values": [425, 475, 525, 575, 625], "labels": false, "title": null, "tickSize": 4}},
                  "y": {"field": "i", "type": "quantitative", "scale": {"domain": [0, 1], "nice": false, "zero": false}, "axis": {"orient": "left", "values": [0.1, 0.3, 0.5, 0.7, 0.9], "labels": false, "title": null, "tickSize": 4}}}},
    {"data": {"name": "ghost"}, "mark": {"type": "point", "opacity": 0},
     "encoding": {"x": {"field": "w", "type": "quantitative", "scale": {"domain": [400, 650], "nice": false, "zero": false}, "axis": {"orient": "top", "values": [400, 450, 500, 550, 600, 650], "labels": false, "title": null, "tickSize": -7}},
                  "y": {"field": "i", "type": "quantitative", "scale": {"domain": [0, 1], "nice": false, "zero": false}, "axis": {"orient": "right", "values": [0, 0.2, 0.4, 0.6, 0.8, 1], "labels": false, "title": null, "tickSize": -7}}}},
    {"data": {"name": "ghost"}, "mark": {"type": "point", "opacity": 0},
     "encoding": {"x": {"field": "w", "type": "quantitative", "scale": {"domain": [400, 650], "nice": false, "zero": false}, "axis": {"orient": "top", "values": [425, 475, 525, 575, 625], "labels": false, "title": null, "tickSize": -4}},
                  "y": {"field": "i", "type": "quantitative", "scale": {"domain": [0, 1], "nice": false, "zero": false}, "axis": {"orient": "right", "values": [0.1, 0.3, 0.5, 0.7, 0.9], "labels": false, "title": null, "tickSize": -4}}}}
   ]}
 ], "spacing": 0}
]
}
